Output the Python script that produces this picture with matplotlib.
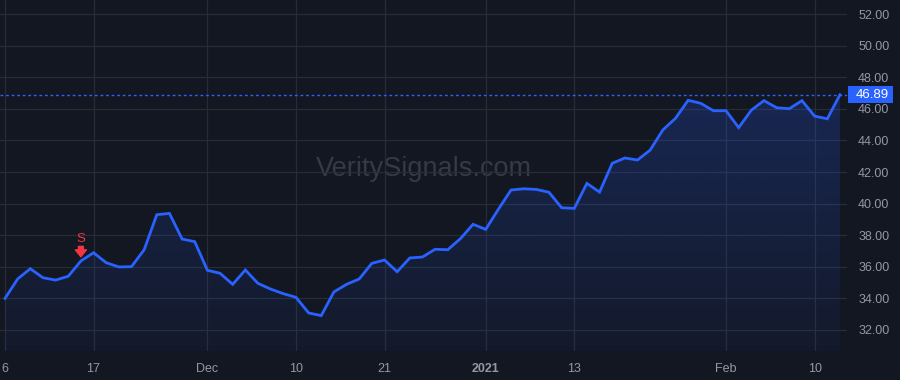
import matplotlib

matplotlib.use("Agg")
import matplotlib.pyplot as plt
import matplotlib.transforms as mtransforms
import numpy as np
from matplotlib.patches import Polygon, Rectangle

BG = "#131722"
GRID = "#282c37"
LINE = "#2962FF"
TICK_TEXT = "#9598a1"
SIGNAL = "#F23645"
WATERMARK = "#363a45"

# daily closes, 6 Nov 2020 .. 12 Feb 2021 (trading days)
prices = [
    34.00, 35.23, 35.88, 35.31, 35.16, 35.40, 36.37, 36.89, 36.26, 35.99,
    36.01, 37.08, 39.30, 39.38, 37.76, 37.59, 35.78, 35.59, 34.89, 35.80,
    34.95, 34.59, 34.30, 34.07, 33.08, 32.91, 34.41, 34.89, 35.23, 36.22,
    36.43, 35.69, 36.56, 36.62, 37.11, 37.08, 37.78, 38.69, 38.37, 39.64,
    40.86, 40.94, 40.90, 40.72, 39.74, 39.70, 41.28, 40.73, 42.55, 42.89,
    42.76, 43.39, 44.66, 45.40, 46.54, 46.35, 45.88, 45.88, 44.81, 45.92,
    46.52, 46.07, 46.01, 46.52, 45.54, 45.37, 46.89,
]
tick_index = [0, 7, 16, 23, 30, 38, 45, 57, 64]
tick_labels = ["6", "17", "Dec", "10", "21", "2021", "13", "Feb", "10"]
y_ticks = [32, 34, 36, 38, 40, 42, 44, 46, 48, 50, 52]
sell_signals = [6]
last_price = prices[-1]

plt.rcParams["font.family"] = ["Liberation Sans", "DejaVu Sans"]

fig = plt.figure(figsize=(9, 3.8), dpi=100, facecolor=BG)
ax = fig.add_axes([0, 1 - 351 / 380, 847 / 900, 351 / 380])
ax.set_facecolor(BG)

x = np.arange(len(prices))
ax.set_xlim(-0.395, 66.56)
ax.set_ylim(30.67, 52.89)
y_lo, y_hi = ax.get_ylim()

# watermark behind everything
ax.text(0.471, 0.555, "VeritySignals.com", transform=fig.transFigure,
        ha="center", va="center", fontsize=19.5, color=WATERMARK, zorder=0)

# gradient area under the line
grad = np.zeros((256, 1, 4))
grad[:, 0, 0] = 41 / 255
grad[:, 0, 1] = 98 / 255
grad[:, 0, 2] = 1.0
grad[:, 0, 3] = np.linspace(0.22, 0.04, 256)
img = ax.imshow(grad, extent=[x[0], x[-1], y_lo, max(prices)], aspect="auto",
                origin="upper", zorder=1)
verts = [(x[0], y_lo)] + list(zip(x, prices)) + [(x[-1], y_lo)]
clip = Polygon(verts, closed=True, facecolor="none", edgecolor="none",
               transform=ax.transData)
ax.add_patch(clip)
img.set_clip_path(clip)

ax.plot(x, prices, color=LINE, linewidth=2, solid_joinstyle="miter", zorder=3)
ax.axhline(last_price, color=LINE, linewidth=1, linestyle=(0, (2, 2)), zorder=2)

# sell signals
for i in sell_signals:
    ax.annotate("", xy=(i, prices[i]), xytext=(0, 10.5), textcoords="offset points",
                arrowprops=dict(arrowstyle="simple,head_length=0.5,head_width=0.8,tail_width=0.35",
                                color=SIGNAL, shrinkA=0, shrinkB=3), zorder=4)
    ax.annotate("S", xy=(i, prices[i]), xytext=(0, 16), textcoords="offset points",
                ha="center", va="center", color=SIGNAL, fontsize=9.5, zorder=4)

ax.set_xticks(tick_index)
ax.set_xticklabels(tick_labels)
for lab in ax.get_xticklabels():
    if lab.get_text() == "2021":
        lab.set_fontweight("bold")
ax.set_yticks(y_ticks)
ax.set_yticklabels([f"{v:.2f}" for v in y_ticks])
ax.yaxis.tick_right()
ax.tick_params(axis="y", length=0, pad=8, labelcolor=TICK_TEXT, labelsize=9)
ax.tick_params(axis="x", length=0, pad=9, labelcolor=TICK_TEXT, labelsize=9)
ax.grid(True, color=GRID, linewidth=0.9)
ax.set_axisbelow(True)
for s in ax.spines.values():
    s.set_visible(False)

# last price label on the price scale
trans = mtransforms.blended_transform_factory(ax.transAxes, ax.transData)
ax.add_patch(Rectangle((1.0 + 1 / 847, last_price - 0.54), 45 / 847, 1.08,
                       transform=trans, facecolor=LINE, edgecolor="none",
                       clip_on=False, zorder=5))
ax.text(1.0 + 25.5 / 847, last_price, f"{last_price:.2f}", transform=trans,
        ha="center", va="center", color="white", fontsize=9.5, zorder=6,
        clip_on=False)

fig.savefig("out.png", dpi=100, facecolor=BG)
